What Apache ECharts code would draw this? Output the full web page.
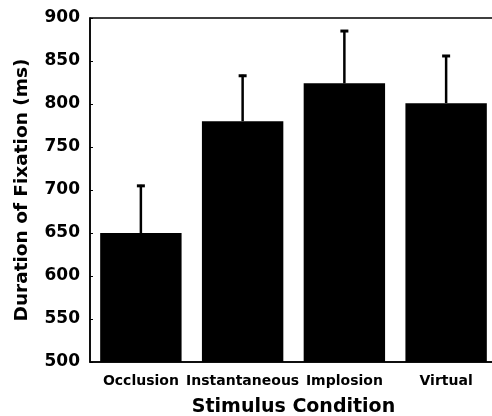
<!DOCTYPE html>
<html>
<head>
<meta charset="utf-8">
<script src="https://cdn.jsdelivr.net/npm/echarts@6/dist/echarts.min.js"></script>
<style>
  html, body { margin: 0; padding: 0; background: #fff; overflow: hidden; }
  /* the original figure is cropped on the right, so the chart is a bit wider than the window */
  #chart { width: 498px; height: 416px; }
</style>
</head>
<body>
<div id="chart"></div>
<script>
// data
const conditions = ["Occlusion", "Instantaneous", "Implosion", "Virtual"];
const meanFixation = [650, 780, 824, 801];
const errorUpper = [706, 834, 886, 857];
const yTicks = [500, 550, 600, 650, 700, 750, 800, 850, 900];

const font = "DejaVu Sans";
const chart = echarts.init(document.getElementById("chart"));

// error bar (only upward whisker with a small cap)
function renderError(params, api) {
  const x = api.value(0);
  const base = api.coord([x, api.value(1)]);
  const top = api.coord([x, api.value(2)]);
  const cap = 4;
  return {
    type: "group",
    children: [
      { type: "line", shape: { x1: base[0], y1: base[1], x2: top[0], y2: top[1] }, style: { stroke: "#000", lineWidth: 2.5 } },
      { type: "line", shape: { x1: top[0] - cap, y1: top[1] + 1, x2: top[0] + cap, y2: top[1] + 1 }, style: { stroke: "#000", lineWidth: 3 } }
    ]
  };
}

chart.setOption({
  animation: false,
  grid: {
    left: 90, top: 18, right: 1, bottom: 54,
    outerBoundsMode: "none",
    containLabel: false,
    show: true, borderColor: "#000", borderWidth: 1.5
  },
  xAxis: {
    type: "category",
    data: conditions,
    name: "Stimulus Condition",
    nameLocation: "middle",
    nameGap: 36,
    nameTextStyle: { fontFamily: font, fontWeight: "bold", fontSize: 19, color: "#000" },
    axisLine: { lineStyle: { color: "#000", width: 1.5 } },
    axisTick: { inside: true, length: 4, lineStyle: { color: "#000" } },
    axisLabel: { interval: 0, margin: 12, fontFamily: font, fontWeight: "bold", fontSize: 14, color: "#000" }
  },
  yAxis: {
    type: "value",
    min: yTicks[0],
    max: yTicks[yTicks.length - 1],
    interval: yTicks[1] - yTicks[0],
    name: "Duration of Fixation (ms)",
    nameLocation: "middle",
    nameGap: 58,
    nameTextStyle: { fontFamily: font, fontWeight: "bold", fontSize: 18.5, color: "#000" },
    axisLine: { show: true, lineStyle: { color: "#000", width: 1.5 } },
    axisTick: { show: true, inside: true, length: 3, lineStyle: { color: "#000" } },
    splitLine: { show: false },
    axisLabel: { margin: 10, fontFamily: font, fontWeight: "bold", fontSize: 17, color: "#000" }
  },
  series: [
    {
      type: "bar",
      data: meanFixation,
      barWidth: "80%",
      itemStyle: { color: "#000" }
    },
    {
      type: "custom",
      renderItem: renderError,
      data: conditions.map((c, i) => [i, meanFixation[i], errorUpper[i]]),
      z: 3
    }
  ]
});
</script>
</body>
</html>
